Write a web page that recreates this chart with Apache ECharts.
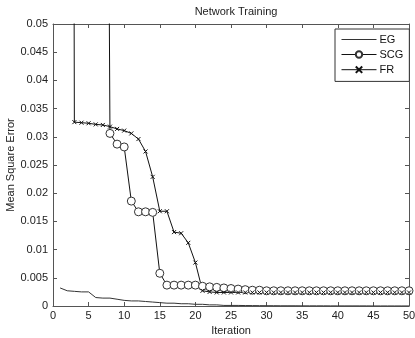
<!DOCTYPE html>
<html>
<head>
<meta charset="utf-8">
<script src="https://cdn.jsdelivr.net/npm/echarts@6/dist/echarts.min.js"></script>
<style>
  html, body { margin: 0; padding: 0; background: #fff; }
  #chart { width: 415px; height: 338px; }
</style>
</head>
<body>
<div id="chart"></div>
<script>
// iteration numbers 1..50
const iterations = [];
for (let i = 1; i <= 50; i++) iterations.push(i);

const egValues = [
  0.0032, 0.0027, 0.0026, 0.0025, 0.0025, 0.0015, 0.0014, 0.0014, 0.0012, 0.0010,
  0.0009, 0.0009, 0.0008, 0.0007, 0.0006, 0.0005, 0.0005, 0.0004, 0.0004, 0.0003,
  0.0003, 0.0002, 0.0002, 0.0001, 0.0001, 0.0001, 0.00008, 0.00007, 0.00006, 0.00005,
  0.00005, 0.00004, 0.00004, 0.00004, 0.00003, 0.00003, 0.00003, 0.00003, 0.00002, 0.00002,
  0.00002, 0.00002, 0.00002, 0.00002, 0.00001, 0.00001, 0.00001, 0.00001, 0.00001, 0.00001
];

const scgValues = [
  0.62, 0.55, 0.48, 0.41, 0.35, 0.30, 0.26, 0.0306, 0.0287, 0.0282,
  0.0186, 0.0167, 0.0167, 0.0166, 0.0058, 0.0037, 0.0037, 0.0037, 0.0037, 0.0037,
  0.0035, 0.0034, 0.0033, 0.0032, 0.0031, 0.0030, 0.0029, 0.0028, 0.0028, 0.0027,
  0.0027, 0.0027, 0.0027, 0.0027, 0.0027, 0.0027, 0.0027, 0.0027, 0.0027, 0.0027,
  0.0027, 0.0027, 0.0027, 0.0027, 0.0027, 0.0027, 0.0027, 0.0027, 0.0027, 0.0027
];

const frValues = [
  0.71, 0.64, 0.0326, 0.0325, 0.0324, 0.0322, 0.0321, 0.0318, 0.0314, 0.0311,
  0.0306, 0.0296, 0.0274, 0.0229, 0.0168, 0.0168, 0.0131, 0.0129, 0.0112, 0.0077,
  0.0027, 0.0025, 0.0024, 0.0024, 0.0024, 0.0024, 0.0024, 0.0024, 0.0024, 0.0024,
  0.0024, 0.0024, 0.0024, 0.0024, 0.0024, 0.0024, 0.0024, 0.0024, 0.0024, 0.0024,
  0.0024, 0.0024, 0.0024, 0.0024, 0.0024, 0.0024, 0.0024, 0.0024, 0.0024, 0.0024
];

const pairs = vals => iterations.map((x, i) => [x, vals[i]]);

const font = 'Liberation Sans, Arial, sans-serif';
const axisCol = '#555';
const crossPath = 'path://M0,0L10,10M10,0L0,10';

// extra axes only for the box frame ticks on top / right
const tickAxis = (pos, isX) => ({
  type: 'value',
  position: pos,
  min: 0,
  max: isX ? 50 : 0.05,
  interval: isX ? 5 : 0.005,
  axisLine: { show: true, onZero: false, lineStyle: { color: axisCol, width: 1 } },
  axisTick: { show: true, inside: true, length: 4, lineStyle: { color: axisCol } },
  axisLabel: { show: false },
  splitLine: { show: false }
});

const chart = echarts.init(document.getElementById('chart'), null, { renderer: 'canvas' });

const option = {
  backgroundColor: '#fff',
  animation: false,
  title: {
    text: 'Network Training',
    left: 231,
    textAlign: 'center',
    top: 1,
    textStyle: { fontFamily: font, fontSize: 11, fontWeight: 'normal', color: '#222' }
  },
  legend: {
    orient: 'vertical',
    left: 335,
    top: 29,
    padding: [5, 6, 6, 6],
    itemWidth: 35,
    itemHeight: 8,
    itemGap: 4,
    backgroundColor: '#fff',
    borderColor: '#333',
    borderWidth: 1,
    borderRadius: 0,
    lineStyle: { width: 1 },
    textStyle: { fontFamily: font, fontSize: 11, color: '#111', padding: [0, 0, 0, -2] },
    data: [
      { name: 'EG', itemStyle: { opacity: 0 } },
      'SCG',
      'FR'
    ]
  },
  grid: { left: 53, right: 6, top: 24, bottom: 32, containLabel: false, outerBoundsMode: 'none' },
  xAxis: [
    {
      type: 'value',
      min: 0,
      max: 50,
      interval: 5,
      name: 'Iteration',
      nameLocation: 'middle',
      nameGap: 18,
      nameTextStyle: { fontFamily: font, fontSize: 11, color: '#222' },
      axisLine: { show: true, onZero: false, lineStyle: { color: axisCol, width: 1 } },
      axisTick: { show: true, inside: true, length: 4, lineStyle: { color: axisCol } },
      axisLabel: { fontFamily: font, fontSize: 11, color: '#222', margin: 4 },
      splitLine: { show: false }
    },
    tickAxis('top', true)
  ],
  yAxis: [
    {
      type: 'value',
      min: 0,
      max: 0.05,
      interval: 0.005,
      name: 'Mean Square Error',
      nameLocation: 'middle',
      nameGap: 37,
      nameMoveOverlap: false,
      nameTextStyle: { fontFamily: font, fontSize: 11, color: '#222' },
      axisLine: { show: true, onZero: false, lineStyle: { color: axisCol, width: 1 } },
      axisTick: { show: true, inside: true, length: 4, lineStyle: { color: axisCol } },
      axisLabel: { fontFamily: font, fontSize: 11, color: '#222', margin: 5 },
      splitLine: { show: false }
    },
    tickAxis('right', false)
  ],
  series: [
    {
      name: 'EG',
      type: 'line',
      data: pairs(egValues),
      symbol: 'none',
      clip: true,
      lineStyle: { color: '#333', width: 1 },
      itemStyle: { color: '#333' }
    },
    {
      name: 'SCG',
      type: 'line',
      data: pairs(scgValues),
      symbol: 'circle',
      symbolSize: 8,
      clip: true,
      lineStyle: { color: '#111', width: 1 },
      itemStyle: { color: '#fff', borderColor: '#333', borderWidth: 1 }
    },
    {
      name: 'FR',
      type: 'line',
      data: pairs(frValues),
      symbol: crossPath,
      symbolSize: 4,
      clip: true,
      lineStyle: { color: '#111', width: 1 },
      itemStyle: { color: 'none', borderColor: '#111', borderWidth: 1 }
    }
  ]
};

chart.setOption(option);
</script>
</body>
</html>
